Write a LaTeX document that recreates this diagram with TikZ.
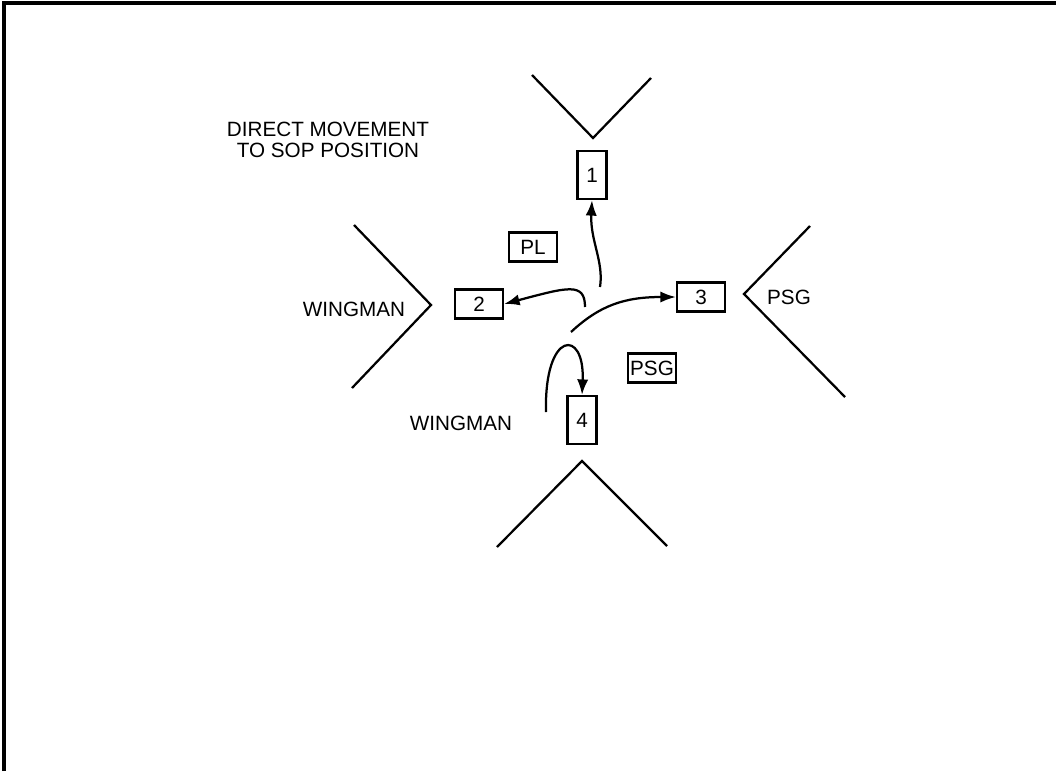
\documentclass[tikz,border=0pt]{standalone}
\usepackage{fontspec}
\setmainfont{Liberation Sans}
\usetikzlibrary{arrows.meta}

\begin{document}
\begin{tikzpicture}[x=0.025cm,y=-0.025cm,
    lbl/.style={font=\fontsize{14.7}{15.4}\selectfont,inner sep=0pt},
    posv/.style={lbl,draw,line width=1.6pt,minimum width=0.72cm,minimum height=1.2cm},
    posh/.style={lbl,draw,line width=1.6pt,minimum width=1.2cm,minimum height=0.72cm},
    wall/.style={line width=1.6pt},
    mov/.style={line width=1.6pt,-{Latex[length=11pt,width=8pt]}}]
      \useasboundingbox (0,0) rectangle (1056,771);
      % frame
      \draw[line width=2.2pt] (4,771) -- (4,3) -- (1056,3);
      % walls
      \draw[wall] (532,75) -- (593,138) -- (651,78);
      \draw[wall] (354,225) -- (431,305) -- (352,388);
      \draw[wall] (810,226) -- (744,294) -- (845,397);
      \draw[wall] (497,547) -- (582,461) -- (667,546);
      % labels
      \node[lbl,align=center] (title) at (328,140) {DIRECT MOVEMENT\\TO SOP POSITION};
      \node[lbl] (wingL) at (354,309) {WINGMAN};
      \node[lbl] (wingB) at (461,423) {WINGMAN};
      \node[lbl] (psgR) at (789,297) {PSG};
      % positions
      \node[posv] (p1) at (592,175) {1}; \node[posh] (p2) at (479,304) {2}; \node[posh] (p3) at (701,297) {3}; \node[posv] (p4) at (582,420) {4};
      \node[posh] (pl) at (533,247) {PL}; \node[posh] (psg) at (652,368) {PSG};
      % movement
      \coordinate (s1) at (600,287); \coordinate (s2) at (585,307); \coordinate (s3) at (571,332); \coordinate (s4) at (546,412);
      \draw[mov] (s1) .. controls (604,262) and (590,240) .. (p1.south);
      \draw[mov] (s2) .. controls (585,282) and (568,287) .. (p2.east);
      \draw[mov] (s3) .. controls (600,305) and (625,297) .. (p3.west);
      \draw[mov] (s4) .. controls (544,330) and (585,328) .. (p4.north);
    \end{tikzpicture}
\end{document}
